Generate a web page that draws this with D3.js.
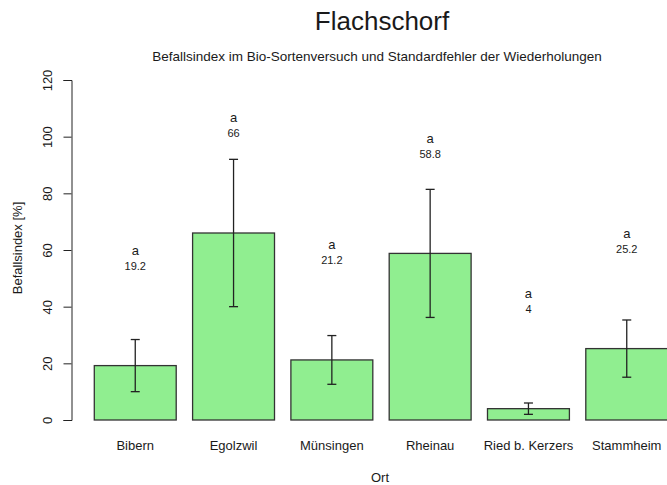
<!DOCTYPE html>
<html>
<head>
<meta charset="utf-8">
<script src="https://cdn.jsdelivr.net/npm/d3@7"></script>
<style>
  body { margin: 0; background: #fff; }
  svg text { font-family: "Liberation Sans", Arial, sans-serif; fill: #1a1a1a; }
</style>
</head>
<body>
<div id="chart"></div>
<script>
// Data
var orte = ["Bibern", "Egolzwil", "Münsingen", "Rheinau", "Ried b. Kerzers", "Stammheim"];
var befall = [19.2, 66, 21.2, 58.8, 4, 25.2];
var stdFehler = [9.2, 26, 8.6, 22.6, 2, 10.1];
var gruppen = ["a", "a", "a", "a", "a", "a"];
var yTicks = [0, 20, 40, 60, 80, 100, 120];

var width = 667;
var height = 485;

var svg = d3.select("#chart")
    .append("svg")
    .attr("width", width)
    .attr("height", height);

// Scales (bars are spaced like an R barplot with space = 0.2)
var x = d3.scaleBand()
    .domain(orte)
    .range([86.1, 675.9])
    .paddingInner(1 / 6)
    .paddingOuter(1 / 12);

var y = d3.scaleLinear()
    .domain([0, 120])
    .range([420, 80]);

// Titles
svg.append("text")
    .attr("x", 382)
    .attr("y", 30)
    .attr("text-anchor", "middle")
    .style("font-size", "26px")
    .text("Flachschorf");

svg.append("text")
    .attr("x", 377)
    .attr("y", 61)
    .attr("text-anchor", "middle")
    .style("font-size", "13.5px")
    .text("Befallsindex im Bio-Sortenversuch und Standardfehler der Wiederholungen");

// Y axis
var yAxis = svg.append("g")
    .attr("transform", "translate(71.5,0)")
    .call(d3.axisLeft(y).tickValues(yTicks).tickSize(8).tickPadding(0).tickFormat(d3.format("d")));
yAxis.select(".domain").attr("stroke", "#222").attr("stroke-width", 1);
yAxis.selectAll(".tick line").attr("stroke", "#222");
yAxis.selectAll(".tick text")
    .attr("x", null)
    .attr("dy", null)
    .attr("transform", "translate(-24,0) rotate(-90)")
    .attr("text-anchor", "middle")
    .attr("dominant-baseline", "central")
    .style("font-size", "13px")
    .style("font-family", "Liberation Sans, Arial, sans-serif")
    .attr("fill", "#1a1a1a");

svg.append("text")
    .attr("transform", "translate(17,248) rotate(-90)")
    .attr("text-anchor", "middle")
    .attr("dominant-baseline", "central")
    .style("font-size", "13px")
    .text("Befallsindex [%]");

// Bars
svg.selectAll("rect.bar")
    .data(befall)
    .enter()
    .append("rect")
    .attr("class", "bar")
    .attr("x", function (d, i) { return x(orte[i]); })
    .attr("y", function (d) { return y(d); })
    .attr("width", x.bandwidth())
    .attr("height", function (d) { return y(0) - y(d); })
    .attr("fill", "#90ee90")
    .attr("stroke", "#333")
    .attr("stroke-width", 1.3);

// Error bars (mean +/- standard error)
var fehler = svg.append("g").attr("stroke", "#222").attr("stroke-width", 1.3);
befall.forEach(function (d, i) {
    var cx = x(orte[i]) + x.bandwidth() / 2;
    var top = y(d + stdFehler[i]);
    var bottom = y(d - stdFehler[i]);
    fehler.append("line").attr("x1", cx).attr("x2", cx).attr("y1", top).attr("y2", bottom);
    fehler.append("line").attr("x1", cx - 4.5).attr("x2", cx + 4.5).attr("y1", top).attr("y2", top);
    fehler.append("line").attr("x1", cx - 4.5).attr("x2", cx + 4.5).attr("y1", bottom).attr("y2", bottom);
});

// Group letters and mean values above the bars
svg.selectAll("text.gruppe")
    .data(gruppen)
    .enter()
    .append("text")
    .attr("class", "gruppe")
    .attr("x", function (d, i) { return x(orte[i]) + x.bandwidth() / 2; })
    .attr("y", function (d, i) { return y(befall[i] + 40.6); })
    .attr("text-anchor", "middle")
    .attr("dominant-baseline", "central")
    .style("font-size", "13px")
    .text(function (d) { return d; });

svg.selectAll("text.wert")
    .data(befall)
    .enter()
    .append("text")
    .attr("class", "wert")
    .attr("x", function (d, i) { return x(orte[i]) + x.bandwidth() / 2; })
    .attr("y", function (d) { return y(d + 40.6) + 15.5; })
    .attr("text-anchor", "middle")
    .attr("dominant-baseline", "central")
    .style("font-size", "11px")
    .text(function (d) { return d; });

// X labels
svg.selectAll("text.ort")
    .data(orte)
    .enter()
    .append("text")
    .attr("class", "ort")
    .attr("x", function (d) { return x(d) + x.bandwidth() / 2; })
    .attr("y", 445)
    .attr("text-anchor", "middle")
    .attr("dominant-baseline", "central")
    .style("font-size", "13px")
    .text(function (d) { return d; });

svg.append("text")
    .attr("x", 380)
    .attr("y", 477)
    .attr("text-anchor", "middle")
    .attr("dominant-baseline", "central")
    .style("font-size", "13px")
    .text("Ort");
</script>
</body>
</html>
